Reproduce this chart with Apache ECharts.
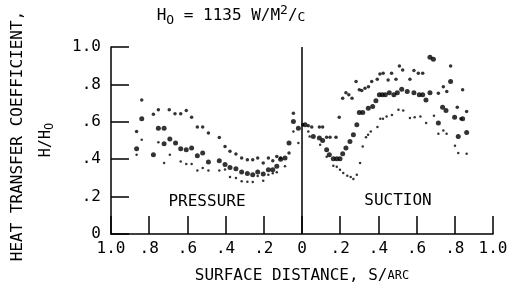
<!DOCTYPE html>
<html>
<head>
<meta charset="utf-8">
<script src="https://cdn.jsdelivr.net/npm/echarts@6/dist/echarts.min.js"></script>
<style>
  html, body { margin: 0; padding: 0; background: #fff; }
  #chart { width: 516px; height: 289px; }
</style>
</head>
<body>
<div id="chart"></div>
<script>
// surface distance: negative = pressure side, positive = suction side
var xTicks = [-1, -0.8, -0.6, -0.4, -0.2, 0, 0.2, 0.4, 0.6, 0.8, 1];
var yTicks = [0, 0.2, 0.4, 0.6, 0.8, 1];

var upperPts = [
  [-0.866,0.548],[-0.839,0.717],[-0.778,0.641],[-0.752,0.664],[-0.695,0.664],[-0.665,0.643],
  [-0.635,0.643],[-0.606,0.66],[-0.578,0.625],[-0.548,0.572],[-0.52,0.572],[-0.49,0.54],
  [-0.433,0.516],[-0.403,0.468],[-0.377,0.442],[-0.346,0.428],[-0.316,0.406],[-0.286,0.397],
  [-0.258,0.397],[-0.232,0.406],[-0.203,0.38],[-0.176,0.406],[-0.153,0.392],[-0.132,0.415],
  [-0.112,0.406],[-0.068,0.433],[-0.045,0.646],[0.004,0.584],[0.033,0.579],[0.051,0.572],
  [0.091,0.572],[0.108,0.572],[0.129,0.518],[0.147,0.518],[0.178,0.518],[0.195,0.625],
  [0.213,0.726],[0.23,0.756],[0.245,0.745],[0.262,0.726],[0.283,0.815],[0.3,0.771],
  [0.313,0.768],[0.33,0.78],[0.348,0.788],[0.365,0.815],[0.394,0.828],[0.408,0.856],
  [0.425,0.86],[0.451,0.824],[0.469,0.86],[0.492,0.828],[0.51,0.899],[0.527,0.877],
  [0.565,0.828],[0.586,0.874],[0.609,0.86],[0.632,0.86],[0.714,0.753],[0.74,0.788],
  [0.758,0.762],[0.778,0.899],[0.813,0.678],[0.832,0.616],[0.841,0.771],[0.862,0.655]
];
var middlePts = [
  [-0.866,0.456],[-0.839,0.616],[-0.778,0.424],[-0.752,0.566],[-0.722,0.566],[-0.722,0.483],
  [-0.692,0.508],[-0.662,0.486],[-0.635,0.456],[-0.606,0.451],[-0.578,0.46],[-0.548,0.419],
  [-0.52,0.433],[-0.49,0.385],[-0.433,0.392],[-0.403,0.371],[-0.377,0.356],[-0.346,0.349],
  [-0.316,0.332],[-0.286,0.323],[-0.258,0.317],[-0.232,0.332],[-0.203,0.321],[-0.176,0.344],
  [-0.153,0.344],[-0.132,0.362],[-0.112,0.4],[-0.089,0.406],[-0.068,0.486],[-0.045,0.602],
  [-0.019,0.566],[0.016,0.584],[0.059,0.522],[0.091,0.513],[0.108,0.5],[0.129,0.451],
  [0.143,0.424],[0.164,0.403],[0.182,0.403],[0.199,0.403],[0.213,0.429],[0.23,0.46],
  [0.251,0.495],[0.269,0.531],[0.287,0.584],[0.3,0.65],[0.318,0.65],[0.347,0.673],
  [0.37,0.682],[0.387,0.712],[0.405,0.744],[0.42,0.744],[0.436,0.744],[0.457,0.756],
  [0.481,0.744],[0.499,0.756],[0.522,0.774],[0.551,0.762],[0.586,0.756],[0.614,0.744],
  [0.632,0.744],[0.649,0.717],[0.67,0.756],[0.67,0.945],[0.688,0.934],[0.714,0.593],
  [0.736,0.678],[0.754,0.66],[0.778,0.815],[0.799,0.625],[0.818,0.522],[0.841,0.616],
  [0.862,0.543]
];
var lowerPts = [
  [-0.866,0.424],[-0.839,0.504],[-0.752,0.49],[-0.722,0.38],[-0.692,0.424],[-0.635,0.388],
  [-0.606,0.374],[-0.578,0.374],[-0.548,0.339],[-0.52,0.353],[-0.49,0.339],[-0.433,0.339],
  [-0.403,0.345],[-0.377,0.305],[-0.346,0.3],[-0.316,0.282],[-0.286,0.28],[-0.258,0.278],
  [-0.232,0.31],[-0.203,0.285],[-0.176,0.317],[-0.153,0.325],[-0.132,0.33],[-0.089,0.362],
  [-0.045,0.548],[-0.019,0.486],[0.033,0.548],[0.04,0.522],[0.095,0.477],[0.129,0.413],
  [0.164,0.365],[0.182,0.36],[0.199,0.344],[0.216,0.326],[0.237,0.312],[0.255,0.305],
  [0.269,0.294],[0.287,0.317],[0.304,0.38],[0.318,0.468],[0.335,0.518],[0.346,0.531],
  [0.36,0.548],[0.395,0.572],[0.41,0.616],[0.424,0.616],[0.443,0.628],[0.471,0.637],
  [0.505,0.664],[0.53,0.66],[0.565,0.62],[0.59,0.625],[0.62,0.628],[0.65,0.593],
  [0.691,0.632],[0.714,0.536],[0.74,0.554],[0.757,0.536],[0.801,0.472],[0.818,0.433],
  [0.862,0.429]
];

var FONT = '"DejaVu Sans Mono", monospace';

// 1.0 / .8 / 0 style labels
function tickText(v) {
  var a = Math.abs(v);
  if (a < 1e-9) return '0';
  if (Math.abs(a - 1) < 1e-9) return '1.0';
  return a.toFixed(1).replace(/^0/, '');
}

var chart = echarts.init(document.getElementById('chart'));
chart.setOption({
  animation: false,
  backgroundColor: '#fff',
  textStyle: { fontFamily: FONT, color: '#000' },
  grid: { left: 111, right: 23, top: 47, bottom: 54 },
  xAxis: {
    type: 'value', min: -1, max: 1, interval: 0.2,
    axisLine: { onZero: false, lineStyle: { color: '#000', width: 1.5 } },
    axisTick: { inside: true, length: 18, lineStyle: { color: '#000', width: 1.5 } },
    axisLabel: { formatter: tickText, fontFamily: FONT, fontSize: 16, color: '#000', margin: 7 },
    splitLine: { show: false },
    name: 'SURFACE DISTANCE, S/{s|ARC}',
    nameLocation: 'middle', nameGap: 34,
    nameTextStyle: {
      fontFamily: FONT, fontSize: 16, color: '#000',
      rich: { s: { fontFamily: FONT, fontSize: 12, color: '#000' } }
    }
  },
  yAxis: {
    type: 'value', min: 0, max: 1, interval: 0.2,
    axisLine: { show: true, onZero: false, lineStyle: { color: '#000', width: 1.5 } },
    axisTick: { show: true, inside: true, length: 18, lineStyle: { color: '#000', width: 1.5 } },
    axisLabel: { formatter: tickText, fontFamily: FONT, fontSize: 16, color: '#000', margin: 10 },
    splitLine: { show: false }
  },
  graphic: [
    {
      type: 'text', x: 231, y: 16,
      style: {
        text: '{b|H}{sub|O}{b| = 1135 W/M}{sup|2}{b|/}{sm|C}',
        align: 'center', verticalAlign: 'middle', fill: '#000',
        rich: {
          b: { fontFamily: FONT, fontSize: 16, fill: '#000' },
          sub: { fontFamily: FONT, fontSize: 13, fill: '#000', padding: [9, 0, 0, 0] },
          sup: { fontFamily: FONT, fontSize: 13, fill: '#000', padding: [0, 0, 10, 0] },
          sm: { fontFamily: FONT, fontSize: 13, fill: '#000', padding: [3, 0, 0, 0] }
        }
      }
    },
    {
      type: 'text', x: 18, y: 136, rotation: Math.PI / 2,
      style: {
        text: 'HEAT TRANSFER COEFFICIENT,', align: 'center', verticalAlign: 'middle',
        fontFamily: FONT, fontSize: 16, fill: '#000'
      }
    },
    {
      type: 'text', x: 46, y: 140, rotation: Math.PI / 2,
      style: {
        text: '{b|H/H}{sub|O}', align: 'center', verticalAlign: 'middle', fill: '#000',
        rich: {
          b: { fontFamily: FONT, fontSize: 15, fill: '#000' },
          sub: { fontFamily: FONT, fontSize: 12, fill: '#000', padding: [8, 0, 0, 0] }
        }
      }
    },
    {
      type: 'text', x: 207, y: 202,
      style: { text: 'PRESSURE', align: 'center', verticalAlign: 'middle', fontFamily: FONT, fontSize: 16, fill: '#000' }
    },
    {
      type: 'text', x: 398, y: 201,
      style: { text: 'SUCTION', align: 'center', verticalAlign: 'middle', fontFamily: FONT, fontSize: 16, fill: '#000' }
    }
  ],
  series: [
    {
      type: 'scatter', data: upperPts, symbolSize: 3.5,
      itemStyle: { color: '#000' },
      markLine: {
        silent: true, symbol: 'none', label: { show: false },
        lineStyle: { color: '#000', width: 1.5, type: 'solid' },
        data: [{ xAxis: 0 }]
      }
    },
    { type: 'scatter', data: middlePts, symbolSize: 5, itemStyle: { color: '#000' } },
    { type: 'scatter', data: lowerPts, symbolSize: 2.5, itemStyle: { color: '#000' } }
  ]
});
</script>
</body>
</html>
